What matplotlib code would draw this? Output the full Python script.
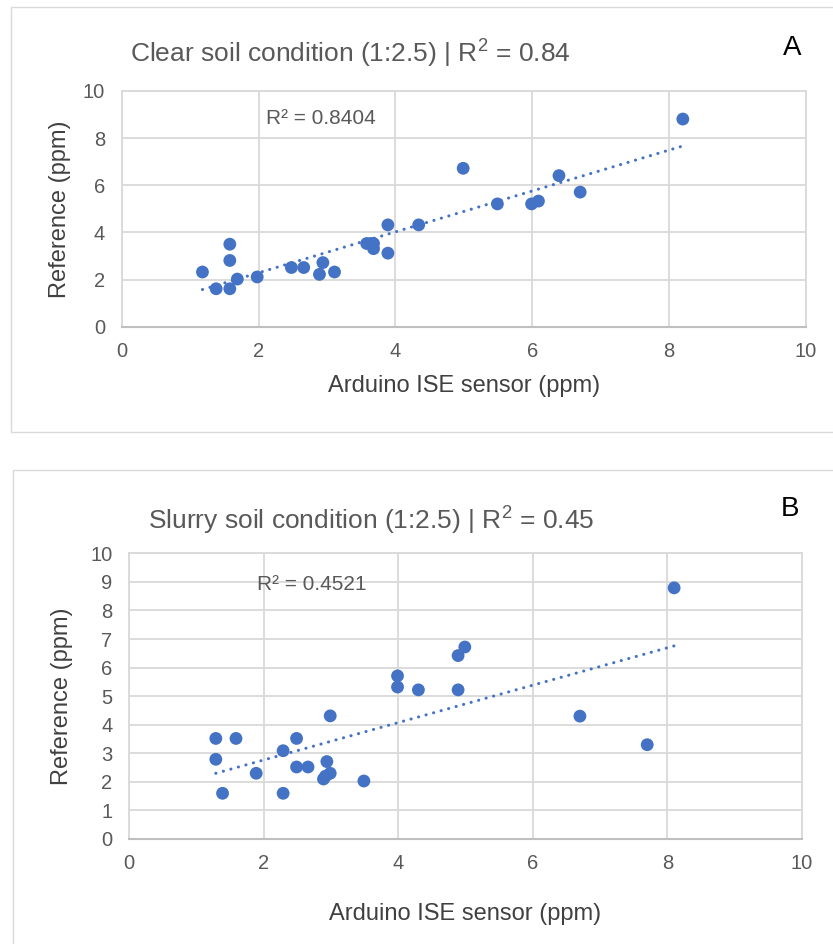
import numpy as np
import matplotlib
matplotlib.use("Agg")
import matplotlib.pyplot as plt
from matplotlib.patches import Rectangle

# ---------------- data ----------------
clear_x = [1.18, 1.38, 1.58, 1.58, 1.58, 1.69, 1.98, 2.48, 2.66, 2.89, 2.94, 3.11,
           3.58, 3.64, 3.68, 3.68, 3.89, 3.89, 4.34, 4.99, 5.49, 5.99, 6.09, 6.39,
           6.70, 8.20]
clear_y = [2.32, 1.61, 3.50, 2.81, 1.61, 2.02, 2.11, 2.51, 2.51, 2.22, 2.72, 2.32,
           3.53, 3.53, 3.53, 3.31, 4.32, 3.12, 4.32, 6.72, 5.21, 5.21, 5.33, 6.41,
           5.71, 8.81]

slurry_x = [1.29, 1.59, 1.29, 1.89, 1.39, 2.29, 2.49, 2.49, 2.66, 2.29, 2.99, 2.94,
            2.99, 2.89, 2.92, 3.49, 3.99, 3.99, 4.30, 4.89, 4.99, 4.89, 6.70, 7.70,
            8.10]
slurry_y = [3.52, 3.52, 2.79, 2.30, 1.60, 3.09, 3.52, 2.52, 2.52, 1.60, 4.31, 2.71,
            2.30, 2.10, 2.20, 2.03, 5.71, 5.32, 5.22, 6.42, 6.72, 5.22, 4.30, 3.30,
            8.79]

titles = ["Clear soil condition (1:2.5) | R$^2$ = 0.84",
          "Slurry soil condition (1:2.5) | R$^2$ = 0.45"]
r2_labels = ["R² = 0.8404", "R² = 0.4521"]
panel_letters = ["A", "B"]
x_label = "Arduino ISE sensor (ppm)"
y_label = "Reference (ppm)"

# ---------------- style ----------------
W, H = 833, 944
plt.rcParams['font.family'] = ['Liberation Sans', 'DejaVu Sans']
plt.rcParams['mathtext.fontset'] = 'custom'
plt.rcParams['mathtext.rm'] = 'Liberation Sans'
grey_txt = '#595959'
grid_c = '#d9d9d9'
blue = '#4472C4'

fig = plt.figure(figsize=(W / 100, H / 100), dpi=100)

def fx(px):
    return px / W

def fy(py):
    return 1 - py / H

# panel frames
fig.patches.append(Rectangle((fx(11), fy(432)), fx(840 - 11), (432 - 7) / H,
                             transform=fig.transFigure, fill=False,
                             edgecolor=grid_c, lw=1.0))
fig.patches.append(Rectangle((fx(13), fy(960)), fx(840 - 13), (960 - 470) / H,
                             transform=fig.transFigure, fill=False,
                             edgecolor=grid_c, lw=1.0))

panels = [
    dict(x=clear_x, y=clear_y, box=(121.7, 806, 91, 326.7), yticks=np.arange(0, 11, 2),
         title_xy=(130, 53), letter_xy=(792, 48), r2_xy=(266, 118),
         xlabel_y=386, ylabel_x=60),
    dict(x=slurry_x, y=slurry_y, box=(129, 802, 553.3, 839), yticks=np.arange(0, 11, 1),
         title_xy=(148, 520), letter_xy=(790, 509), r2_xy=(257, 584),
         xlabel_y=914, ylabel_x=62),
]

for i, p in enumerate(panels):
    l, r, t, b = p['box']
    ax = fig.add_axes([fx(l), fy(b), (r - l) / W, (b - t) / H])
    ax.set_xlim(0, 10)
    ax.set_ylim(0, 10)
    ax.set_xticks(np.arange(0, 11, 2))
    ax.set_yticks(p['yticks'])
    ax.grid(True, color=grid_c, lw=1.3, zorder=0)
    ax.set_axisbelow(True)
    for s in ['left', 'right', 'top']:
        ax.spines[s].set_color(grid_c)
        ax.spines[s].set_linewidth(1.3)
    ax.spines['bottom'].set_color('#bfbfbf')
    ax.spines['bottom'].set_linewidth(1.5)
    ax.tick_params(length=0, labelsize=14.5, labelcolor=grey_txt)
    ax.tick_params(axis='x', pad=11)
    ax.tick_params(axis='y', pad=12)

    xs = np.array(p['x'])
    ys = np.array(p['y'])
    ax.scatter(xs, ys, s=85, color=blue, edgecolors='none', zorder=3)
    k, c0 = np.polyfit(xs, ys, 1)
    xx = np.array([xs.min(), xs.max()])
    ax.plot(xx, k * xx + c0, color=blue, lw=2.2, linestyle=(0, (0.05, 2.5)),
            dash_capstyle='round', zorder=2)

    fig.text(fx(p['title_xy'][0]), fy(p['title_xy'][1]), titles[i], fontsize=19,
             color=grey_txt, ha='left', va='center')
    fig.text(fx(p['letter_xy'][0]), fy(p['letter_xy'][1]), panel_letters[i],
             fontsize=20, color='black', ha='center', va='center')
    fig.text(fx(p['r2_xy'][0]), fy(p['r2_xy'][1]), r2_labels[i], fontsize=15,
             color=grey_txt, ha='left', va='center')
    fig.text(fx((l + r) / 2), fy(p['xlabel_y']), x_label, fontsize=17,
             color='#404040', ha='center', va='center')
    fig.text(fx(p['ylabel_x']), fy((t + b) / 2), y_label, fontsize=17,
             color='#404040', ha='center', va='center', rotation=90)

fig.savefig('out.png', dpi=100)
